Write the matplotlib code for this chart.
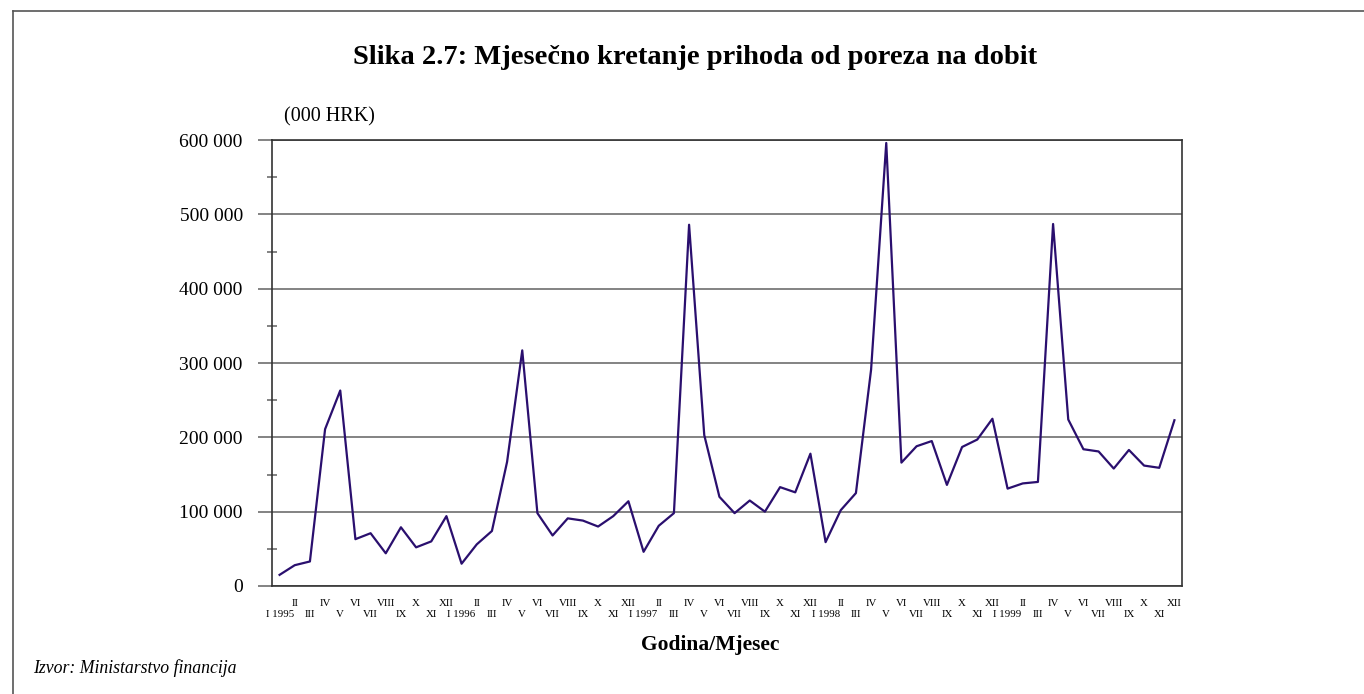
import matplotlib
matplotlib.use("Agg")
import matplotlib.pyplot as plt
from matplotlib.lines import Line2D
from matplotlib.ticker import MultipleLocator, FuncFormatter

plt.rcParams['font.family'] = ['Liberation Serif', 'DejaVu Serif']

# mjeseci I 1995 - XII 1999
months = ['I', 'II', 'III', 'IV', 'V', 'VI', 'VII', 'VIII', 'IX', 'X', 'XI', 'XII']
years = ['1995', '1996', '1997', '1998', '1999']
labels = []
for y in years:
    for m in months:
        labels.append(m + ' ' + y if m == 'I' else m)

# prihod od poreza na dobit, 000 HRK
values = [
    15000, 28000, 33000, 211000, 263000, 63000, 71000, 44000, 79000, 52000, 60000, 94000,
    30000, 56000, 74000, 167000, 317000, 98000, 68000, 91000, 88000, 80000, 94000, 114000,
    46000, 81000, 98000, 486000, 203000, 120000, 98000, 115000, 100000, 133000, 126000, 178000,
    59000, 102000, 125000, 291000, 596000, 166000, 188000, 195000, 136000, 187000, 197000, 225000,
    131000, 138000, 140000, 487000, 224000, 184000, 181000, 158000, 183000, 162000, 159000, 223000,
]

fig = plt.figure(figsize=(13.64, 6.94), dpi=100)
ax = fig.add_axes([272/1364, 1-586/694, 910/1364, 446/694])

x = range(len(values))
ax.plot(x, values, color='#2a0f6e', lw=1.6)
ax.set_xlim(-0.5, len(values)-0.5)
ax.set_ylim(0, 600000)

ax.yaxis.set_major_locator(MultipleLocator(100000))
ax.yaxis.set_minor_locator(MultipleLocator(50000))
ax.yaxis.set_major_formatter(FuncFormatter(lambda v, p: f"{int(v):,}".replace(',', ' ')))
ax.grid(axis='y', color='#6e6e6e', lw=1.2)
ax.tick_params(axis='y', which='major', length=10, color='#6e6e6e', width=1.2, labelsize=14, pad=11)
ax.tick_params(axis='y', which='minor', length=7, direction='inout', color='#6e6e6e', width=1.2)
ax.set_xticks([])
for s in ax.spines.values():
    s.set_color('#333333')
    s.set_linewidth(1.2)

# staggered month labels
for i, lab in enumerate(labels):
    odd = i % 2 == 0
    ax.annotate(lab, xy=(i, 0), xycoords=('data', 'axes fraction'),
                xytext=(0, -24 if odd else -16), textcoords='offset points',
                ha='center', va='bottom', fontsize=7.8)

fig.text(695/1364, 1-58/694, 'Slika 2.7: Mjesečno kretanje prihoda od poreza na dobit',
         ha='center', va='center', fontsize=20.5, fontweight='bold')
fig.text(284/1364, 1-117/694, '(000 HRK)', ha='left', va='center', fontsize=14.5)
fig.text(710/1364, 1-645/694, 'Godina/Mjesec', ha='center', va='center', fontsize=15.5, fontweight='bold')
fig.text(33/1364, 1-668/694, 'Izvor: Ministarstvo financija', ha='left', va='center',
         fontsize=12.8, style='italic')

# okvir
fig.add_artist(Line2D([13/1364, 13/1364], [0, 1-11/694], transform=fig.transFigure, color='#555555', lw=1.2))
fig.add_artist(Line2D([13/1364, 1], [1-11/694, 1-11/694], transform=fig.transFigure, color='#555555', lw=1.2))

fig.savefig('out.png', dpi=100)
